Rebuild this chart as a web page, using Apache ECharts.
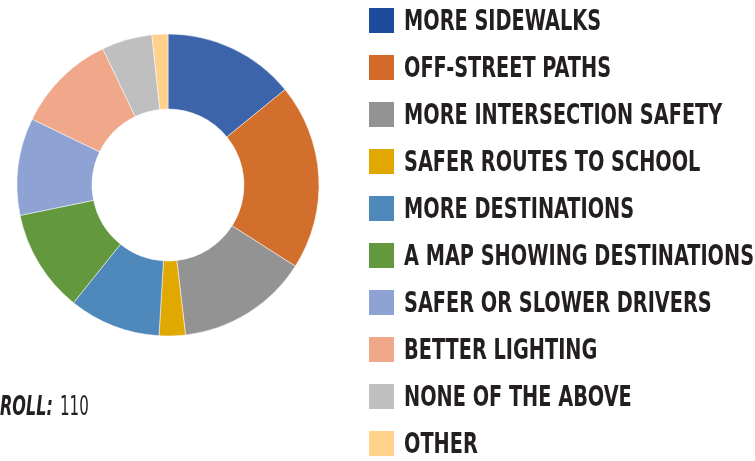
<!DOCTYPE html>
<html>
<head>
<meta charset="utf-8">
<script src="https://cdn.jsdelivr.net/npm/echarts@6/dist/echarts.min.js"></script>
<style>
html,body{margin:0;padding:0;background:#fff;}
#c{width:755px;height:461px;}
</style>
</head>
<body>
<div id="c"></div>
<script>
var categories = ["MORE SIDEWALKS","OFF-STREET PATHS","MORE INTERSECTION SAFETY","SAFER ROUTES TO SCHOOL","MORE DESTINATIONS","A MAP SHOWING DESTINATIONS","SAFER OR SLOWER DRIVERS","BETTER LIGHTING","NONE OF THE ABOVE","OTHER"];
var values = [14.1, 19.9, 14.1, 2.8, 9.8, 11.0, 10.4, 10.7, 5.4, 1.7];
var sliceColors = ["#3C64AA","#D36F2C","#939393","#E0A800","#4F89BC","#63983E","#8EA3D3","#F0A78A","#BFBFBF","#FFD18A"];
var legendColors = ["#1D4C9F","#D36A2A","#939393","#E0A800","#4F89BC","#63983E","#8EA3D3","#F0A78A","#BFBFBF","#FFD18A"];
var enrollLabel = "ROLL:";
var enrollValue = "110";

var chart = echarts.init(document.getElementById('c'), null, {renderer:'canvas'});
var font = '"DejaVu Sans Condensed","DejaVu Sans",sans-serif';

var graphics = [];
categories.forEach(function(n,i){
  var y0 = 8 + 47*i;
  graphics.push({
    type:'rect', silent:true,
    shape:{x:369, y:y0, width:25, height:25},
    style:{fill:legendColors[i]}
  });
  graphics.push({
    type:'text', silent:true,
    x:404, y:y0+14.5, scaleX:0.74, scaleY:1,
    style:{text:n, fontFamily:font, fontWeight:'bold', fontSize:29, fill:'#231F20', verticalAlign:'middle'}
  });
});
graphics.push({
  type:'text', silent:true, x:0, y:407.5, scaleX:0.66, scaleY:1,
  style:{text:enrollLabel, fontFamily:font, fontWeight:'bold', fontStyle:'italic', fontSize:27, fill:'#231F20', verticalAlign:'middle'}
});
graphics.push({
  type:'text', silent:true, x:60, y:407.5, scaleX:0.62, scaleY:1,
  style:{text:enrollValue, fontFamily:font, fontSize:27, fill:'#231F20', verticalAlign:'middle'}
});

chart.setOption({
  animation:false,
  color: sliceColors,
  graphic: graphics,
  series:[{
    type:'pie',
    center:[168,185],
    radius:[76,151],
    startAngle:90,
    clockwise:true,
    label:{show:false},
    labelLine:{show:false},
    emphasis:{disabled:true},
    itemStyle:{borderColor:'#fff', borderWidth:0.5},
    data: categories.map(function(n,i){return {name:n, value:values[i]};})
  }]
});
</script>
</body>
</html>
